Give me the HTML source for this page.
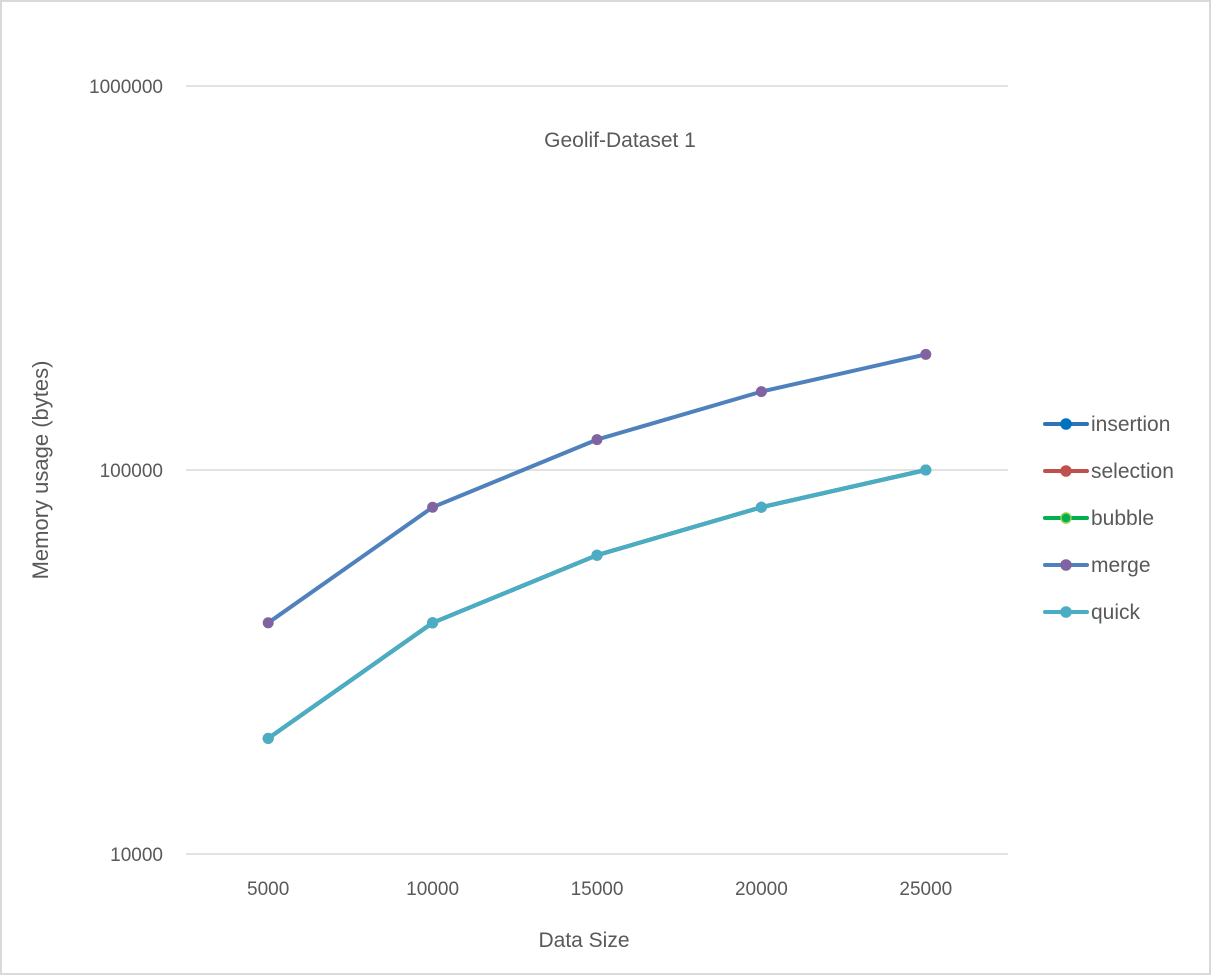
<!DOCTYPE html>
<html><head><meta charset="utf-8"><style>
html,body{margin:0;padding:0;background:#fff;}
svg{display:block;font-family:"Liberation Sans",sans-serif;}
</style></head><body>
<svg id="chart" width="1211" height="975" viewBox="0 0 1211 975" xmlns="http://www.w3.org/2000/svg">
<rect x="1" y="1" width="1209" height="973" fill="#fff" stroke="#d9d9d9" stroke-width="2"/>
<g id="grid"></g>
<g id="yticks"></g>
<g id="xticks"></g>
<text x="620" y="147" text-anchor="middle" font-size="21" fill="#595959">Geolif-Dataset 1</text>
<text transform="translate(48,470) rotate(-90)" text-anchor="middle" font-size="22" fill="#595959">Memory usage (bytes)</text>
<text x="584" y="947" text-anchor="middle" font-size="21" fill="#595959">Data Size</text>
<g id="series"></g>
<g id="legend"></g>
</svg>
<script>
const categories = ["5000","10000","15000","20000","25000"];
const seriesNames = ["insertion","selection","bubble","merge","quick"];
const insertion = [20000,40000,60000,80000,100000];
const selection = [20000,40000,60000,80000,100000];
const bubble = [20000,40000,60000,80000,100000];
const merge = [40000,80000,120000,160000,200000];
const quick = [20000,40000,60000,80000,100000];
const yTickValues = [10000,100000,1000000];
const yTickLabels = ["10000","100000","1000000"];

const NS="http://www.w3.org/2000/svg";
const plotL=186, plotR=1008, yTop=86, yBot=854;
const yMinLog=4, yMaxLog=6;
function yScale(v){return yBot-(Math.log10(v)-yMinLog)/(yMaxLog-yMinLog)*(yBot-yTop);}
function xScale(i){const w=(plotR-plotL)/categories.length;return plotL+w*(i+0.5);}
function mk(tag,attrs,parent){const e=document.createElementNS(NS,tag);for(const k in attrs)e.setAttribute(k,attrs[k]);parent.appendChild(e);return e;}

const grid=document.getElementById('grid'), yt=document.getElementById('yticks'), xt=document.getElementById('xticks');
yTickValues.forEach((v,i)=>{
  const y=yScale(v);
  const l=mk('line',{x1:plotL,x2:plotR,y1:y,y2:y,stroke:'#d9d9d9','stroke-width':1.5},grid);
  
  
  const t=mk('text',{x:163,y:y+7,'text-anchor':'end','font-size':19,fill:'#595959'},yt);
  t.textContent=yTickLabels[i];
  
  
});
categories.forEach((c,i)=>{
  const t=mk('text',{x:xScale(i),y:895,'text-anchor':'middle','font-size':19,fill:'#595959'},xt);
  t.textContent=c;
  
  
});

const data=[insertion,selection,bubble,merge,quick];
const lineColors=['#2e75b6','#c0504d','#00b050','#4f81bd','#4bacc6'];
const markerColors=['#0070c0','#c0504d','#00b050','#8064a2','#4bacc6'];
const markerStroke=['#0070c0','#c0504d','#92d050','#8064a2','#4bacc6'];
const sg=document.getElementById('series'), lg=document.getElementById('legend');
data.forEach((vals,s)=>{
  const g=mk('g',{},sg);
  
  
  const pts=vals.map((v,i)=>xScale(i)+','+yScale(v)).join(' ');
  const pl=mk('polyline',{points:pts,fill:'none',stroke:lineColors[s],'stroke-width':4,'stroke-linejoin':'round','stroke-linecap':'round'},g);
  
  
  vals.forEach((v,i)=>{
    const c=mk('circle',{cx:xScale(i),cy:yScale(v),r:5,fill:markerColors[s],stroke:markerStroke[s],'stroke-width':1},g);
    
    
  });
  const ly=424+47*s;
  const le=mk('g',{},lg);
  
  
  mk('line',{x1:1045,x2:1087,y1:ly,y2:ly,stroke:lineColors[s],'stroke-width':4,'stroke-linecap':'round'},le);
  mk('circle',{cx:1066,cy:ly,r:5,fill:markerColors[s],stroke:markerStroke[s],'stroke-width':1.5},le);
  const t=mk('text',{x:1091,y:ly+7,'font-size':21,fill:'#595959'},le);
  t.textContent=seriesNames[s];
});
</script>
</body></html>
